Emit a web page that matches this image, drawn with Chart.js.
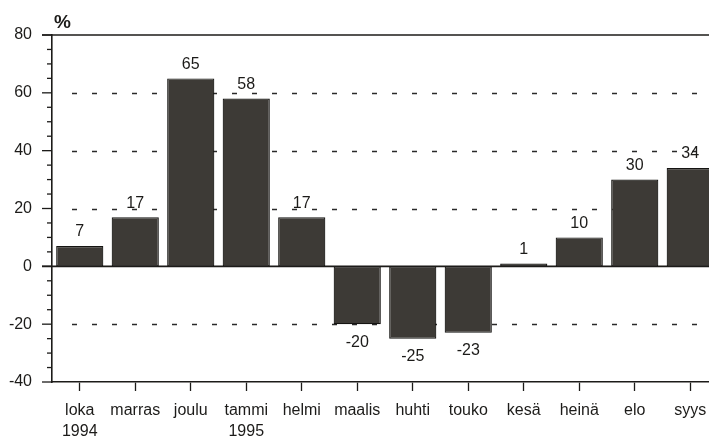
<!DOCTYPE html>
<html>
<head>
<meta charset="utf-8">
<script src="https://cdn.jsdelivr.net/npm/chart.js@4/dist/chart.umd.min.js"></script>
<style>
  html, body { margin: 0; padding: 0; background: #fff; overflow: hidden; }
  #wrap { width: 718px; height: 437px; }
</style>
</head>
<body>
<div id="wrap"><canvas id="chart" width="718" height="437"></canvas></div>
<script>
// months Oct 1994 - Sep 1995, change in %
const months = [['loka', '1994'], 'marras', 'joulu', ['tammi', '1995'], 'helmi', 'maalis',
                'huhti', 'touko', 'kesä', 'heinä', 'elo', 'syys'];
const values = [7, 17, 65, 58, 17, -20, -25, -23, 1, 10, 30, 34];
const dashedAt = [60, 40, 20, -20];

const FONT = "'Liberation Sans', Arial, sans-serif";
const INK = '#1c1b19';

const extras = {
  id: 'extras',
  beforeDatasetsDraw(chart) {
    const { ctx, chartArea: a, scales: { y } } = chart;
    ctx.save();
    ctx.strokeStyle = '#2a2a2a';
    ctx.lineWidth = 1.3;
    ctx.setLineDash([5, 15]);
    dashedAt.forEach(v => {
      const py = Math.round(y.getPixelForValue(v)) + 0.5;
      ctx.beginPath();
      ctx.moveTo(a.left + 20, py);
      ctx.lineTo(a.right, py);
      ctx.stroke();
    });
    ctx.restore();
  },
  afterDatasetsDraw(chart) {
    const { ctx, chartArea: a, scales: { y } } = chart;
    ctx.save();
    ctx.strokeStyle = INK;
    // zero line and top frame line
    ctx.lineWidth = 1.6;
    [0, 80].forEach(v => {
      const py = y.getPixelForValue(v);
      ctx.beginPath();
      ctx.moveTo(a.left - 10, py);
      ctx.lineTo(a.right, py);
      ctx.stroke();
    });
    // y tick marks, minor every 5
    ctx.lineWidth = 1.3;
    for (let v = -40; v <= 80; v += 5) {
      const py = y.getPixelForValue(v);
      const len = v % 20 === 0 ? 10 : 5;
      ctx.beginPath();
      ctx.moveTo(a.left - len, py);
      ctx.lineTo(a.left, py);
      ctx.stroke();
    }
    // value labels
    ctx.fillStyle = INK;
    ctx.font = '16px ' + FONT;
    ctx.textAlign = 'center';
    const meta = chart.getDatasetMeta(0);
    meta.data.forEach((bar, i) => {
      const v = values[i];
      if (v >= 0) {
        ctx.textBaseline = 'bottom';
        ctx.fillText(String(v), bar.x, bar.y - 6);
      } else {
        ctx.textBaseline = 'top';
        ctx.fillText(String(v), bar.x, bar.y + 10);
      }
    });
    // unit
    ctx.font = 'bold 19px ' + FONT;
    ctx.textAlign = 'left';
    ctx.textBaseline = 'alphabetic';
    ctx.fillText('%', a.left + 2, 28);
    ctx.restore();
  }
};

new Chart(document.getElementById('chart'), {
  type: 'bar',
  data: {
    labels: months,
    datasets: [{
      data: values,
      backgroundColor: '#3d3a36',
      borderColor: '#151412',
      borderWidth: 1.2,
      borderSkipped: false,
      barPercentage: 0.85,
      categoryPercentage: 1.0
    }]
  },
  options: {
    responsive: false,
    animation: false,
    layout: { padding: { top: 35, left: 0, right: 0, bottom: 0 } },
    plugins: { legend: { display: false }, tooltip: { enabled: false } },
    scales: {
      x: {
        offset: true,
        grid: { display: true, drawOnChartArea: false, offset: false, tickLength: 9, color: INK, tickWidth: 1.3 },
        border: { display: true, color: INK, width: 1.6 },
        ticks: { color: INK, font: { family: FONT, size: 16, lineHeight: 1.3 }, padding: 9, maxRotation: 0, autoSkip: false },
        afterFit(s) { s.height = 55; }
      },
      y: {
        min: -40, max: 80,
        grid: { display: false },
        border: { display: true, color: INK, width: 1.6 },
        ticks: { stepSize: 20, color: INK, font: { family: FONT, size: 16 }, padding: 12 },
        afterFit(s) { s.width = 52; }
      }
    }
  },
  plugins: [extras]
});
</script>
</body>
</html>
